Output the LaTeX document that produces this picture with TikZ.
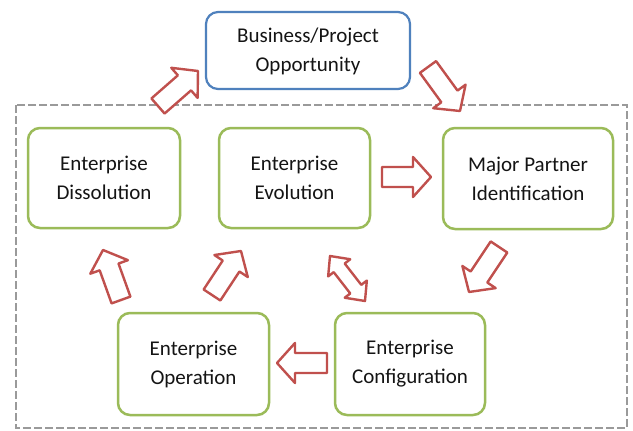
\documentclass[tikz,border=0pt]{standalone}
\usepackage{fontspec}
\setmainfont{Carlito}
\usetikzlibrary{calc}
\definecolor{boxblue}{HTML}{4F81BD}
\definecolor{boxgreen}{HTML}{9BBB59}
\definecolor{arrred}{HTML}{C0504D}
\definecolor{dashgray}{HTML}{9A9A9A}
\tikzset{
  stagebox/.style={draw=boxgreen, line width=2.5pt, rounded corners=12pt, fill=white},
  oppbox/.style={draw=boxblue, line width=2.2pt, rounded corners=12pt, fill=white},
  stagetext/.style={align=center, font=\fontsize{21}{29}\selectfont, text=black!92},
  blockarrow/.style={draw=arrred, line width=2.4pt, fill=white, line join=round},
  outerframe/.style={draw=dashgray, line width=2.4pt, dash pattern=on 8pt off 3pt},
}
\newcommand\blkarrow[2]{%
  \path let \p1=($(#2)-(#1)$) in \pgfextra{%
    \pgfmathsetmacro\blkang{atan2(\y1,\x1)}%
    \pgfmathsetmacro\blklen{veclen(\x1,\y1)}%
    \global\let\blkang\blkang\global\let\blklen\blklen};
  \draw[blockarrow, shift={(#1)}, rotate=\blkang]
    (0,-10) -- (\blklen-18,-10) -- (\blklen-18,-20) -- (\blklen,0)
    -- (\blklen-18,20) -- (\blklen-18,10) -- (0,10) -- cycle;
}
\newcommand\dblarrow[2]{%
  \path let \p1=($(#2)-(#1)$) in \pgfextra{%
    \pgfmathsetmacro\blkang{atan2(\y1,\x1)}%
    \pgfmathsetmacro\blklen{veclen(\x1,\y1)}%
    \global\let\blkang\blkang\global\let\blklen\blklen};
  \draw[blockarrow, shift={(#1)}, rotate=\blkang]
    (0,0) -- (15,-14) -- (15,-7) -- (\blklen-15,-7) -- (\blklen-15,-14) -- (\blklen,0)
    -- (\blklen-15,14) -- (\blklen-15,7) -- (15,7) -- (15,14) -- cycle;
}
\begin{document}
\begin{tikzpicture}[x=1pt,y=-1pt]
\useasboundingbox (0,0) rectangle (633,431);
\fill[white] (0,0) rectangle (633,431);
% dashed frame
\draw[outerframe] (16,105) rectangle (627,428);
% boxes
\draw[oppbox] (206,12) rectangle (410,89);
\draw[stagebox] (28,128) rectangle (180,228);
\draw[stagebox] (219,128) rectangle (370,228);
\draw[stagebox] (443,128) rectangle (613,229);
\draw[stagebox] (118,313) rectangle (269,415);
\draw[stagebox] (335,313) rectangle (485,415);
% texts
\node[stagetext] (bus) at (308,51) {Business/Project\\Opportunity};
\node[stagetext] (dis) at (104,178) {Enterprise\\Dissolution};
\node[stagetext] (evo) at (294.5,178) {Enterprise\\Evolution};
\node[stagetext] (maj) at (528,178.5) {Major Partner\\Identification};
\node[stagetext] (ope) at (193.5,364) {Enterprise\\Operation};
\node[stagetext] (con) at (410,364) {Enterprise\\Configuration};
% arrow end points
\coordinate (a1s) at (158,106); \coordinate (a1e) at (198,71);
\coordinate (a2s) at (428,67);  \coordinate (a2e) at (460,111);
\coordinate (a3s) at (382,177); \coordinate (a3e) at (431,177);
\coordinate (a4s) at (499,247); \coordinate (a4e) at (469,292);
\coordinate (a5s) at (330,256); \coordinate (a5e) at (365,301);
\coordinate (a6s) at (327,363); \coordinate (a6e) at (277,363);
\coordinate (a7s) at (212,295); \coordinate (a7e) at (241,251);
\coordinate (a8s) at (121,300); \coordinate (a8e) at (103,250);
\blkarrow{a1s}{a1e}
\blkarrow{a2s}{a2e}
\blkarrow{a3s}{a3e}
\blkarrow{a4s}{a4e}
\dblarrow{a5s}{a5e}
\blkarrow{a6s}{a6e}
\blkarrow{a7s}{a7e}
\blkarrow{a8s}{a8e}
\end{tikzpicture}
\end{document}
